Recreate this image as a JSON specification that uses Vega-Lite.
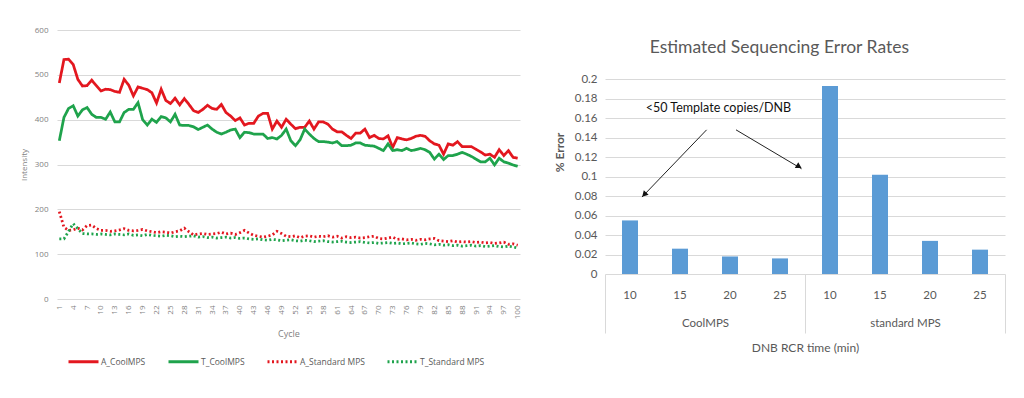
{
  "$schema": "https://vega.github.io/schema/vega-lite/v6.json",
  "background": "white",
  "padding": {"left": 20, "top": 26, "right": 5, "bottom": 5},
  "spacing": 29,
  "config": {"view": {"stroke": null}, "axis": {"gridColor": "#d9d9d9", "gridWidth": 1}},
  "resolve": {"legend": {"color": "independent", "strokeDash": "independent"}},
  "datasets": {
    "intensity": [
      {"cycle":1,"A_CoolMPS":482,"T_CoolMPS":353,"A_Standard MPS":195,"T_Standard MPS":134},
      {"cycle":2,"A_CoolMPS":534,"T_CoolMPS":405,"A_Standard MPS":160,"T_Standard MPS":134},
      {"cycle":3,"A_CoolMPS":535,"T_CoolMPS":425,"A_Standard MPS":153,"T_Standard MPS":151},
      {"cycle":4,"A_CoolMPS":523,"T_CoolMPS":431,"A_Standard MPS":154,"T_Standard MPS":168},
      {"cycle":5,"A_CoolMPS":490,"T_CoolMPS":408,"A_Standard MPS":158,"T_Standard MPS":157},
      {"cycle":6,"A_CoolMPS":475,"T_CoolMPS":422,"A_Standard MPS":154,"T_Standard MPS":146},
      {"cycle":7,"A_CoolMPS":476,"T_CoolMPS":427,"A_Standard MPS":164,"T_Standard MPS":145},
      {"cycle":8,"A_CoolMPS":488,"T_CoolMPS":412,"A_Standard MPS":165,"T_Standard MPS":145},
      {"cycle":9,"A_CoolMPS":476,"T_CoolMPS":405,"A_Standard MPS":157,"T_Standard MPS":144},
      {"cycle":10,"A_CoolMPS":464,"T_CoolMPS":405,"A_Standard MPS":153,"T_Standard MPS":145},
      {"cycle":11,"A_CoolMPS":468,"T_CoolMPS":401,"A_Standard MPS":153,"T_Standard MPS":144},
      {"cycle":12,"A_CoolMPS":467,"T_CoolMPS":417,"A_Standard MPS":151,"T_Standard MPS":143},
      {"cycle":13,"A_CoolMPS":463,"T_CoolMPS":395,"A_Standard MPS":152,"T_Standard MPS":145},
      {"cycle":14,"A_CoolMPS":461,"T_CoolMPS":395,"A_Standard MPS":154,"T_Standard MPS":144},
      {"cycle":15,"A_CoolMPS":490,"T_CoolMPS":416,"A_Standard MPS":157,"T_Standard MPS":143},
      {"cycle":16,"A_CoolMPS":477,"T_CoolMPS":423,"A_Standard MPS":153,"T_Standard MPS":145},
      {"cycle":17,"A_CoolMPS":453,"T_CoolMPS":423,"A_Standard MPS":152,"T_Standard MPS":142},
      {"cycle":18,"A_CoolMPS":473,"T_CoolMPS":438,"A_Standard MPS":153,"T_Standard MPS":143},
      {"cycle":19,"A_CoolMPS":470,"T_CoolMPS":400,"A_Standard MPS":155,"T_Standard MPS":141},
      {"cycle":20,"A_CoolMPS":467,"T_CoolMPS":388,"A_Standard MPS":152,"T_Standard MPS":144},
      {"cycle":21,"A_CoolMPS":460,"T_CoolMPS":401,"A_Standard MPS":150,"T_Standard MPS":142},
      {"cycle":22,"A_CoolMPS":437,"T_CoolMPS":394,"A_Standard MPS":148,"T_Standard MPS":141},
      {"cycle":23,"A_CoolMPS":468,"T_CoolMPS":407,"A_Standard MPS":150,"T_Standard MPS":140},
      {"cycle":24,"A_CoolMPS":443,"T_CoolMPS":404,"A_Standard MPS":149,"T_Standard MPS":142},
      {"cycle":25,"A_CoolMPS":436,"T_CoolMPS":395,"A_Standard MPS":147,"T_Standard MPS":141},
      {"cycle":26,"A_CoolMPS":448,"T_CoolMPS":412,"A_Standard MPS":150,"T_Standard MPS":139},
      {"cycle":27,"A_CoolMPS":433,"T_CoolMPS":388,"A_Standard MPS":152,"T_Standard MPS":140},
      {"cycle":28,"A_CoolMPS":447,"T_CoolMPS":387,"A_Standard MPS":158,"T_Standard MPS":139},
      {"cycle":29,"A_CoolMPS":434,"T_CoolMPS":387,"A_Standard MPS":150,"T_Standard MPS":140},
      {"cycle":30,"A_CoolMPS":420,"T_CoolMPS":384,"A_Standard MPS":143,"T_Standard MPS":141},
      {"cycle":31,"A_CoolMPS":416,"T_CoolMPS":378,"A_Standard MPS":145,"T_Standard MPS":138},
      {"cycle":32,"A_CoolMPS":423,"T_CoolMPS":383,"A_Standard MPS":146,"T_Standard MPS":139},
      {"cycle":33,"A_CoolMPS":432,"T_CoolMPS":388,"A_Standard MPS":144,"T_Standard MPS":137},
      {"cycle":34,"A_CoolMPS":425,"T_CoolMPS":379,"A_Standard MPS":145,"T_Standard MPS":138},
      {"cycle":35,"A_CoolMPS":423,"T_CoolMPS":372,"A_Standard MPS":146,"T_Standard MPS":136},
      {"cycle":36,"A_CoolMPS":434,"T_CoolMPS":368,"A_Standard MPS":149,"T_Standard MPS":137},
      {"cycle":37,"A_CoolMPS":416,"T_CoolMPS":372,"A_Standard MPS":145,"T_Standard MPS":138},
      {"cycle":38,"A_CoolMPS":408,"T_CoolMPS":377,"A_Standard MPS":147,"T_Standard MPS":136},
      {"cycle":39,"A_CoolMPS":398,"T_CoolMPS":379,"A_Standard MPS":144,"T_Standard MPS":137},
      {"cycle":40,"A_CoolMPS":404,"T_CoolMPS":360,"A_Standard MPS":148,"T_Standard MPS":135},
      {"cycle":41,"A_CoolMPS":388,"T_CoolMPS":372,"A_Standard MPS":153,"T_Standard MPS":136},
      {"cycle":42,"A_CoolMPS":392,"T_CoolMPS":371,"A_Standard MPS":147,"T_Standard MPS":134},
      {"cycle":43,"A_CoolMPS":392,"T_CoolMPS":368,"A_Standard MPS":142,"T_Standard MPS":133},
      {"cycle":44,"A_CoolMPS":408,"T_CoolMPS":368,"A_Standard MPS":140,"T_Standard MPS":134},
      {"cycle":45,"A_CoolMPS":414,"T_CoolMPS":368,"A_Standard MPS":138,"T_Standard MPS":132},
      {"cycle":46,"A_CoolMPS":414,"T_CoolMPS":358,"A_Standard MPS":140,"T_Standard MPS":131},
      {"cycle":47,"A_CoolMPS":379,"T_CoolMPS":360,"A_Standard MPS":143,"T_Standard MPS":133},
      {"cycle":48,"A_CoolMPS":397,"T_CoolMPS":357,"A_Standard MPS":151,"T_Standard MPS":132},
      {"cycle":49,"A_CoolMPS":383,"T_CoolMPS":365,"A_Standard MPS":146,"T_Standard MPS":130},
      {"cycle":50,"A_CoolMPS":401,"T_CoolMPS":379,"A_Standard MPS":140,"T_Standard MPS":131},
      {"cycle":51,"A_CoolMPS":390,"T_CoolMPS":353,"A_Standard MPS":139,"T_Standard MPS":132},
      {"cycle":52,"A_CoolMPS":380,"T_CoolMPS":342,"A_Standard MPS":141,"T_Standard MPS":130},
      {"cycle":53,"A_CoolMPS":383,"T_CoolMPS":355,"A_Standard MPS":137,"T_Standard MPS":129},
      {"cycle":54,"A_CoolMPS":383,"T_CoolMPS":379,"A_Standard MPS":140,"T_Standard MPS":131},
      {"cycle":55,"A_CoolMPS":397,"T_CoolMPS":368,"A_Standard MPS":141,"T_Standard MPS":130},
      {"cycle":56,"A_CoolMPS":379,"T_CoolMPS":358,"A_Standard MPS":138,"T_Standard MPS":128},
      {"cycle":57,"A_CoolMPS":395,"T_CoolMPS":351,"A_Standard MPS":140,"T_Standard MPS":129},
      {"cycle":58,"A_CoolMPS":395,"T_CoolMPS":351,"A_Standard MPS":139,"T_Standard MPS":130},
      {"cycle":59,"A_CoolMPS":390,"T_CoolMPS":350,"A_Standard MPS":141,"T_Standard MPS":128},
      {"cycle":60,"A_CoolMPS":379,"T_CoolMPS":348,"A_Standard MPS":138,"T_Standard MPS":127},
      {"cycle":61,"A_CoolMPS":373,"T_CoolMPS":351,"A_Standard MPS":140,"T_Standard MPS":128},
      {"cycle":62,"A_CoolMPS":373,"T_CoolMPS":342,"A_Standard MPS":136,"T_Standard MPS":129},
      {"cycle":63,"A_CoolMPS":365,"T_CoolMPS":342,"A_Standard MPS":139,"T_Standard MPS":127},
      {"cycle":64,"A_CoolMPS":358,"T_CoolMPS":343,"A_Standard MPS":137,"T_Standard MPS":126},
      {"cycle":65,"A_CoolMPS":370,"T_CoolMPS":348,"A_Standard MPS":138,"T_Standard MPS":127},
      {"cycle":66,"A_CoolMPS":370,"T_CoolMPS":348,"A_Standard MPS":136,"T_Standard MPS":128},
      {"cycle":67,"A_CoolMPS":379,"T_CoolMPS":343,"A_Standard MPS":137,"T_Standard MPS":126},
      {"cycle":68,"A_CoolMPS":360,"T_CoolMPS":342,"A_Standard MPS":139,"T_Standard MPS":125},
      {"cycle":69,"A_CoolMPS":365,"T_CoolMPS":341,"A_Standard MPS":140,"T_Standard MPS":126},
      {"cycle":70,"A_CoolMPS":358,"T_CoolMPS":336,"A_Standard MPS":135,"T_Standard MPS":124},
      {"cycle":71,"A_CoolMPS":357,"T_CoolMPS":331,"A_Standard MPS":134,"T_Standard MPS":125},
      {"cycle":72,"A_CoolMPS":364,"T_CoolMPS":346,"A_Standard MPS":136,"T_Standard MPS":126},
      {"cycle":73,"A_CoolMPS":338,"T_CoolMPS":331,"A_Standard MPS":138,"T_Standard MPS":124},
      {"cycle":74,"A_CoolMPS":360,"T_CoolMPS":333,"A_Standard MPS":133,"T_Standard MPS":125},
      {"cycle":75,"A_CoolMPS":357,"T_CoolMPS":331,"A_Standard MPS":134,"T_Standard MPS":123},
      {"cycle":76,"A_CoolMPS":355,"T_CoolMPS":336,"A_Standard MPS":132,"T_Standard MPS":124},
      {"cycle":77,"A_CoolMPS":358,"T_CoolMPS":331,"A_Standard MPS":133,"T_Standard MPS":125},
      {"cycle":78,"A_CoolMPS":363,"T_CoolMPS":333,"A_Standard MPS":131,"T_Standard MPS":123},
      {"cycle":79,"A_CoolMPS":365,"T_CoolMPS":336,"A_Standard MPS":133,"T_Standard MPS":122},
      {"cycle":80,"A_CoolMPS":363,"T_CoolMPS":333,"A_Standard MPS":132,"T_Standard MPS":124},
      {"cycle":81,"A_CoolMPS":353,"T_CoolMPS":327,"A_Standard MPS":134,"T_Standard MPS":123},
      {"cycle":82,"A_CoolMPS":346,"T_CoolMPS":312,"A_Standard MPS":135,"T_Standard MPS":121},
      {"cycle":83,"A_CoolMPS":343,"T_CoolMPS":323,"A_Standard MPS":130,"T_Standard MPS":122},
      {"cycle":84,"A_CoolMPS":323,"T_CoolMPS":311,"A_Standard MPS":129,"T_Standard MPS":120},
      {"cycle":85,"A_CoolMPS":346,"T_CoolMPS":320,"A_Standard MPS":128,"T_Standard MPS":121},
      {"cycle":86,"A_CoolMPS":343,"T_CoolMPS":320,"A_Standard MPS":130,"T_Standard MPS":119},
      {"cycle":87,"A_CoolMPS":351,"T_CoolMPS":323,"A_Standard MPS":127,"T_Standard MPS":120},
      {"cycle":88,"A_CoolMPS":340,"T_CoolMPS":327,"A_Standard MPS":128,"T_Standard MPS":118},
      {"cycle":89,"A_CoolMPS":340,"T_CoolMPS":323,"A_Standard MPS":127,"T_Standard MPS":119},
      {"cycle":90,"A_CoolMPS":340,"T_CoolMPS":318,"A_Standard MPS":128,"T_Standard MPS":120},
      {"cycle":91,"A_CoolMPS":334,"T_CoolMPS":312,"A_Standard MPS":126,"T_Standard MPS":118},
      {"cycle":92,"A_CoolMPS":328,"T_CoolMPS":306,"A_Standard MPS":127,"T_Standard MPS":119},
      {"cycle":93,"A_CoolMPS":321,"T_CoolMPS":306,"A_Standard MPS":125,"T_Standard MPS":117},
      {"cycle":94,"A_CoolMPS":323,"T_CoolMPS":314,"A_Standard MPS":126,"T_Standard MPS":118},
      {"cycle":95,"A_CoolMPS":316,"T_CoolMPS":299,"A_Standard MPS":124,"T_Standard MPS":119},
      {"cycle":96,"A_CoolMPS":333,"T_CoolMPS":314,"A_Standard MPS":125,"T_Standard MPS":117},
      {"cycle":97,"A_CoolMPS":320,"T_CoolMPS":306,"A_Standard MPS":127,"T_Standard MPS":116},
      {"cycle":98,"A_CoolMPS":331,"T_CoolMPS":303,"A_Standard MPS":122,"T_Standard MPS":118},
      {"cycle":99,"A_CoolMPS":316,"T_CoolMPS":299,"A_Standard MPS":123,"T_Standard MPS":116},
      {"cycle":100,"A_CoolMPS":314,"T_CoolMPS":296,"A_Standard MPS":120,"T_Standard MPS":114}
    ],
    "errors": [
      {"key": "CoolMPS|10", "group": "CoolMPS", "time": 10, "error": 0.055},
      {"key": "CoolMPS|15", "group": "CoolMPS", "time": 15, "error": 0.026},
      {"key": "CoolMPS|20", "group": "CoolMPS", "time": 20, "error": 0.018},
      {"key": "CoolMPS|25", "group": "CoolMPS", "time": 25, "error": 0.016},
      {"key": "standard MPS|10", "group": "standard MPS", "time": 10, "error": 0.193},
      {"key": "standard MPS|15", "group": "standard MPS", "time": 15, "error": 0.102},
      {"key": "standard MPS|20", "group": "standard MPS", "time": 20, "error": 0.034},
      {"key": "standard MPS|25", "group": "standard MPS", "time": 25, "error": 0.025}
    ],
    "arrows": [
      {"arrow": "left", "x0": 0.508, "y0": 0.148, "x1": 0.185, "y1": 0.079, "hx": 0.196, "hy": 0.0815},
      {"arrow": "right", "x0": 0.655, "y0": 0.148, "x1": 0.983, "y1": 0.108, "hx": 0.970, "hy": 0.1103}
    ],
    "notes": [
      {"label": "<50 Template copies/DNB", "nx": 0.5675, "ny": 0.1706}
    ]
  },
  "hconcat": [
    {
      "width": 463,
      "height": 269,
      "data": {"name": "intensity"},
      "transform": [
        {"fold": ["A_CoolMPS", "T_CoolMPS", "A_Standard MPS", "T_Standard MPS"], "as": ["series", "intensity"]}
      ],
      "mark": {"type": "line", "strokeWidth": 2.75},
      "encoding": {
        "x": {
          "field": "cycle", "type": "quantitative",
          "scale": {"domain": [0.5, 100.5], "nice": false, "zero": false},
          "axis": {
            "values": [1,4,7,10,13,16,19,22,25,28,31,34,37,40,43,46,49,52,55,58,61,64,67,70,73,76,79,82,85,88,91,94,97,100],
            "labelAngle": -90, "grid": false, "ticks": false, "domain": false,
            "labelFont": "Open Sans", "labelFontSize": 8, "labelColor": "#7f7f7f", "labelPadding": 6,
            "labelOverlap": false, "labelFlush": false,
            "title": "Cycle", "titleFont": "Open Sans", "titleFontSize": 9, "titleFontWeight": "normal", "titleColor": "#7f7f7f", "titlePadding": 11
          }
        },
        "y": {
          "field": "intensity", "type": "quantitative",
          "scale": {"domain": [0, 600]},
          "axis": {
            "values": [0,100,200,300,400,500,600],
            "grid": true, "ticks": false, "domain": false,
            "labelFont": "Open Sans", "labelFontSize": 8, "labelColor": "#7f7f7f", "labelPadding": 9,
            "title": "Intensity", "titleFont": "Open Sans", "titleFontSize": 8, "titleFontWeight": "normal", "titleColor": "#7f7f7f", "titlePadding": 6
          }
        },
        "color": {
          "field": "series", "type": "nominal",
          "scale": {"domain": ["A_CoolMPS", "T_CoolMPS", "A_Standard MPS", "T_Standard MPS"], "range": ["#e3171f", "#1fa34c", "#e3171f", "#1fa34c"]},
          "legend": {"orient": "bottom", "direction": "horizontal", "title": null, "symbolType": "stroke", "symbolSize": 900, "symbolStrokeWidth": 3, "labelFont": "Open Sans", "labelFontSize": 8.5, "labelColor": "#595959", "columnPadding": 16, "labelOffset": 1, "padding": 10, "offset": -4}
        },
        "strokeDash": {
          "field": "series", "type": "nominal",
          "scale": {"domain": ["A_CoolMPS", "T_CoolMPS", "A_Standard MPS", "T_Standard MPS"], "range": [[1, 0], [1, 0], [2, 2.5], [2, 2.5]]},
          "legend": {"orient": "bottom", "direction": "horizontal", "title": null, "symbolType": "stroke", "symbolSize": 900, "symbolStrokeWidth": 3, "labelFont": "Open Sans", "labelFontSize": 8.5, "labelColor": "#595959", "columnPadding": 16, "labelOffset": 1, "padding": 10, "offset": -4}
        }
      }
    },
    {
      "width": 400,
      "height": 244,
      "title": {"text": "Estimated Sequencing Error Rates", "font": "Lato", "fontSize": 17.5, "fontWeight": "normal", "color": "#595959", "anchor": "middle", "frame": "bounds", "offset": -26},
      "layer": [
        {
          "data": {"name": "errors"},
          "mark": {"type": "bar", "color": "#5b9bd5"},
          "encoding": {
            "x": {
              "field": "key", "type": "nominal", "sort": null,
              "scale": {"paddingInner": 0.68, "paddingOuter": 0.34},
              "axis": {"orient": "bottom", "labelExpr": "split(datum.value, '|')[1]", "labelAngle": 0, "ticks": false, "domain": false, "labelPadding": 15, "labelFont": "Lato", "labelFontSize": 11.5, "labelColor": "#595959", "title": null}
            },
            "y": {
              "field": "error", "type": "quantitative",
              "scale": {"domain": [0, 0.2505], "nice": false},
              "axis": {
                "values": [0,0.02,0.04,0.06,0.08,0.1,0.12,0.14,0.16,0.18,0.2], "format": "~g",
                "grid": true, "ticks": false, "domain": false, "labelOverlap": false,
                "labelFont": "Lato", "labelFontSize": 11.5, "labelColor": "#595959", "labelPadding": 8,
                "title": "% Error", "titleFont": "Lato", "titleFontSize": 12, "titleFontWeight": "bold", "titleColor": "#595959", "titlePadding": 8
              }
            }
          }
        },
        {
          "data": {"name": "arrows"},
          "layer": [
            {
              "mark": {"type": "rule", "color": "#222222", "strokeWidth": 1},
              "encoding": {
                "x": {
                  "field": "x0", "type": "quantitative",
                  "scale": {"domain": [0, 2], "nice": false, "zero": false},
                  "axis": {
                    "orient": "bottom", "values": [0, 0.5, 1, 1.5, 2],
                    "labelExpr": "datum.value == 0.5 ? 'CoolMPS' : datum.value == 1.5 ? 'standard MPS' : ''",
                    "grid": false, "domain": false,
                    "tickSize": 59, "tickColor": "#d9d9d9",
                    "tickOpacity": {"condition": {"test": "datum.value == 0.5 || datum.value == 1.5", "value": 0}, "value": 1},
                    "labelPadding": -16, "labelFont": "Lato", "labelFontSize": 11.5, "labelColor": "#595959",
                    "labelOverlap": false, "labelFlush": false, "labelBound": false,
                    "title": "DNB RCR time (min)", "titleFont": "Lato", "titleFontSize": 12, "titleFontWeight": "normal", "titleColor": "#595959", "titlePadding": 9
                  }
                },
                "x2": {"field": "x1"},
                "y": {
                  "field": "y0", "type": "quantitative",
                  "axis": {
                    "values": [0,0.02,0.04,0.06,0.08,0.1,0.12,0.14,0.16,0.18,0.2], "format": "~g",
                    "grid": true, "ticks": false, "domain": false, "labelOverlap": false,
                    "labelFont": "Lato", "labelFontSize": 11.5, "labelColor": "#595959", "labelPadding": 8,
                    "title": "% Error", "titleFont": "Lato", "titleFontSize": 12, "titleFontWeight": "bold", "titleColor": "#595959", "titlePadding": 8
                  }
                },
                "y2": {"field": "y1"}
              }
            },
            {
              "transform": [{"filter": "datum.arrow == 'left'"}],
              "mark": {"type": "point", "shape": "triangle-up", "filled": true, "color": "#111111", "opacity": 1, "size": 45, "angle": 224},
              "encoding": {
                "x": {"field": "hx", "type": "quantitative"},
                "y": {
                  "field": "hy", "type": "quantitative",
                  "axis": {
                    "values": [0,0.02,0.04,0.06,0.08,0.1,0.12,0.14,0.16,0.18,0.2], "format": "~g",
                    "grid": true, "ticks": false, "domain": false, "labelOverlap": false,
                    "labelFont": "Lato", "labelFontSize": 11.5, "labelColor": "#595959", "labelPadding": 8,
                    "title": "% Error", "titleFont": "Lato", "titleFontSize": 12, "titleFontWeight": "bold", "titleColor": "#595959", "titlePadding": 8
                  }
                }
              }
            },
            {
              "transform": [{"filter": "datum.arrow == 'right'"}],
              "mark": {"type": "point", "shape": "triangle-up", "filled": true, "color": "#111111", "opacity": 1, "size": 45, "angle": 121},
              "encoding": {
                "x": {"field": "hx", "type": "quantitative"},
                "y": {
                  "field": "hy", "type": "quantitative",
                  "axis": {
                    "values": [0,0.02,0.04,0.06,0.08,0.1,0.12,0.14,0.16,0.18,0.2], "format": "~g",
                    "grid": true, "ticks": false, "domain": false, "labelOverlap": false,
                    "labelFont": "Lato", "labelFontSize": 11.5, "labelColor": "#595959", "labelPadding": 8,
                    "title": "% Error", "titleFont": "Lato", "titleFontSize": 12, "titleFontWeight": "bold", "titleColor": "#595959", "titlePadding": 8
                  }
                }
              }
            },
            {
              "data": {"name": "notes"},
              "mark": {"type": "text", "font": "Lato", "fontSize": 12.5, "color": "#111111", "align": "center", "baseline": "middle"},
              "encoding": {
                "x": {"field": "nx", "type": "quantitative"},
                "y": {
                  "field": "ny", "type": "quantitative",
                  "axis": {
                    "values": [0,0.02,0.04,0.06,0.08,0.1,0.12,0.14,0.16,0.18,0.2], "format": "~g",
                    "grid": true, "ticks": false, "domain": false, "labelOverlap": false,
                    "labelFont": "Lato", "labelFontSize": 11.5, "labelColor": "#595959", "labelPadding": 8,
                    "title": "% Error", "titleFont": "Lato", "titleFontSize": 12, "titleFontWeight": "bold", "titleColor": "#595959", "titlePadding": 8
                  }
                },
                "text": {"field": "label"}
              }
            }
          ]
        }
      ],
      "resolve": {"scale": {"x": "independent"}, "axis": {"x": "independent"}}
    }
  ]
}
